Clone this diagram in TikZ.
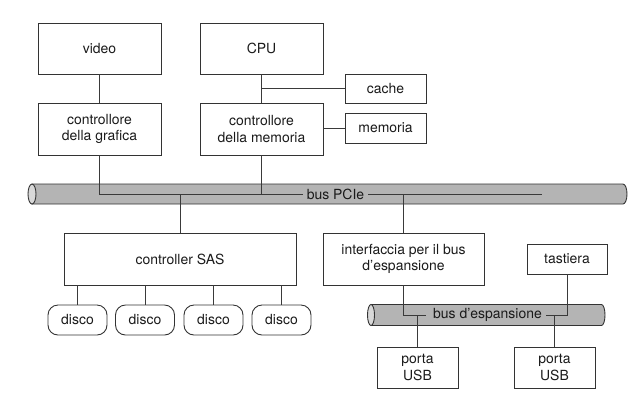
\documentclass[tikz,border=0pt]{standalone}
\usepackage{fontspec}
\setmainfont{TeX Gyre Heros}
\definecolor{edge}{HTML}{333333}
\definecolor{wire}{HTML}{3A3A3A}
\definecolor{busgray}{HTML}{B4B4B4}
\definecolor{capgray}{HTML}{D8D8D8}
\definecolor{txt}{HTML}{1A1A1A}
\begin{document}
\begin{tikzpicture}[x=1bp,y=-1bp,
  every node/.style={font=\fontsize{14}{16.2}\selectfont, text=txt},
  box/.style={draw=edge, line width=0.9bp, inner sep=0pt, align=center, fill=white},
  disk/.style={box, rounded corners=10bp, minimum width=59bp, minimum height=30bp},
  wireline/.style={draw=wire, line width=0.9bp},
  buslabel/.style={fill=busgray, inner xsep=4bp, inner ysep=1bp}]
\useasboundingbox (0,0) rectangle (642,413);

% buses
\path[fill=busgray, draw=edge, line width=0.9bp] (32,184) -- (623,184) arc[start angle=-90, end angle=90, x radius=4, y radius=10] -- (32,204) -- cycle;
\path[fill=capgray, draw=edge, line width=0.9bp] (32,194) ellipse [x radius=4, y radius=10];
\path[fill=busgray, draw=edge, line width=0.9bp] (371,304.5) -- (601.5,304.5) arc[start angle=-90, end angle=90, x radius=3.5, y radius=10.5] -- (371,325.5) -- cycle;
\path[fill=capgray, draw=edge, line width=0.9bp] (371,315) ellipse [x radius=3.5, y radius=10.5];

% boxes
\node[box, minimum width=123bp, minimum height=51bp] (video) at (99.5,48.5) {video};
\node[box, minimum width=123bp, minimum height=51bp] (cpu) at (261.5,48.5) {CPU};
\node[box, minimum width=123bp, minimum height=52bp] (graf) at (99.5,129) {controllore\\della grafica};
\node[box, minimum width=123bp, minimum height=52bp] (memc) at (261.5,129) {controllore\\della memoria};
\node[box, minimum width=81bp, minimum height=29bp] (cache) at (385.5,88.5) {cache};
\node[box, minimum width=81bp, minimum height=30bp] (mem) at (385.5,128) {memoria};
\node[box, minimum width=232bp, minimum height=52bp] (sas) at (180,259) {controller SAS};
\node[disk] (d1) at (77.5,320) {disco};
\node[disk] (d2) at (145,320) {disco};
\node[disk] (d3) at (213.5,320) {disco};
\node[disk] (d4) at (281.5,320) {disco};
\node[box, minimum width=161bp, minimum height=52bp] (intf) at (403.5,259) {interfaccia per il bus\\d’espansione};
\node[box, minimum width=80bp, minimum height=30bp] (tast) at (567,259) {tastiera};
\node[box, minimum width=81bp, minimum height=41bp] (usb1) at (417.5,367.5) {porta\\USB};
\node[box, minimum width=81bp, minimum height=41bp] (usb2) at (554.5,367.5) {porta\\USB};

% bus coordinates
\coordinate (pl) at (99.5,194);
\coordinate (pr) at (542,194);
\coordinate (el) at (403.5,315);
\coordinate (elr) at (426,315);
\coordinate (err) at (546,315);
\coordinate (er) at (567,315);

% connectors
\draw[wireline] (video) -- (graf);
\draw[wireline] (cpu) -- (memc);
\draw[wireline] (cache.west) -- (cache.west -| cpu.south);
\draw[wireline] (mem.west) -- (memc.east |- mem.west);
\draw[wireline] (graf.south) -- (pl) -- (pr);
\draw[wireline] (memc.south) -- (memc.south |- pl);
\draw[wireline] (sas.north) -- (sas.north |- pl);
\draw[wireline] (intf.north) -- (intf.north |- pl);
\node[buslabel] (pcie) at (335.5,194) {bus PCIe};

\draw[wireline] (sas.south -| d1) -- (d1);
\draw[wireline] (sas.south -| d2) -- (d2);
\draw[wireline] (sas.south -| d3) -- (d3);
\draw[wireline] (sas.south -| d4) -- (d4);

\draw[wireline] (intf.south) -- (el) -- (elr);
\draw[wireline] (usb1.north |- el) -- (usb1.north);
\draw[wireline] (tast.south) -- (er) -- (err);
\draw[wireline] (usb2.north |- er) -- (usb2.north);
\node[buslabel] (espbus) at (487.5,315) {bus d’espansione};
\end{tikzpicture}
\end{document}
